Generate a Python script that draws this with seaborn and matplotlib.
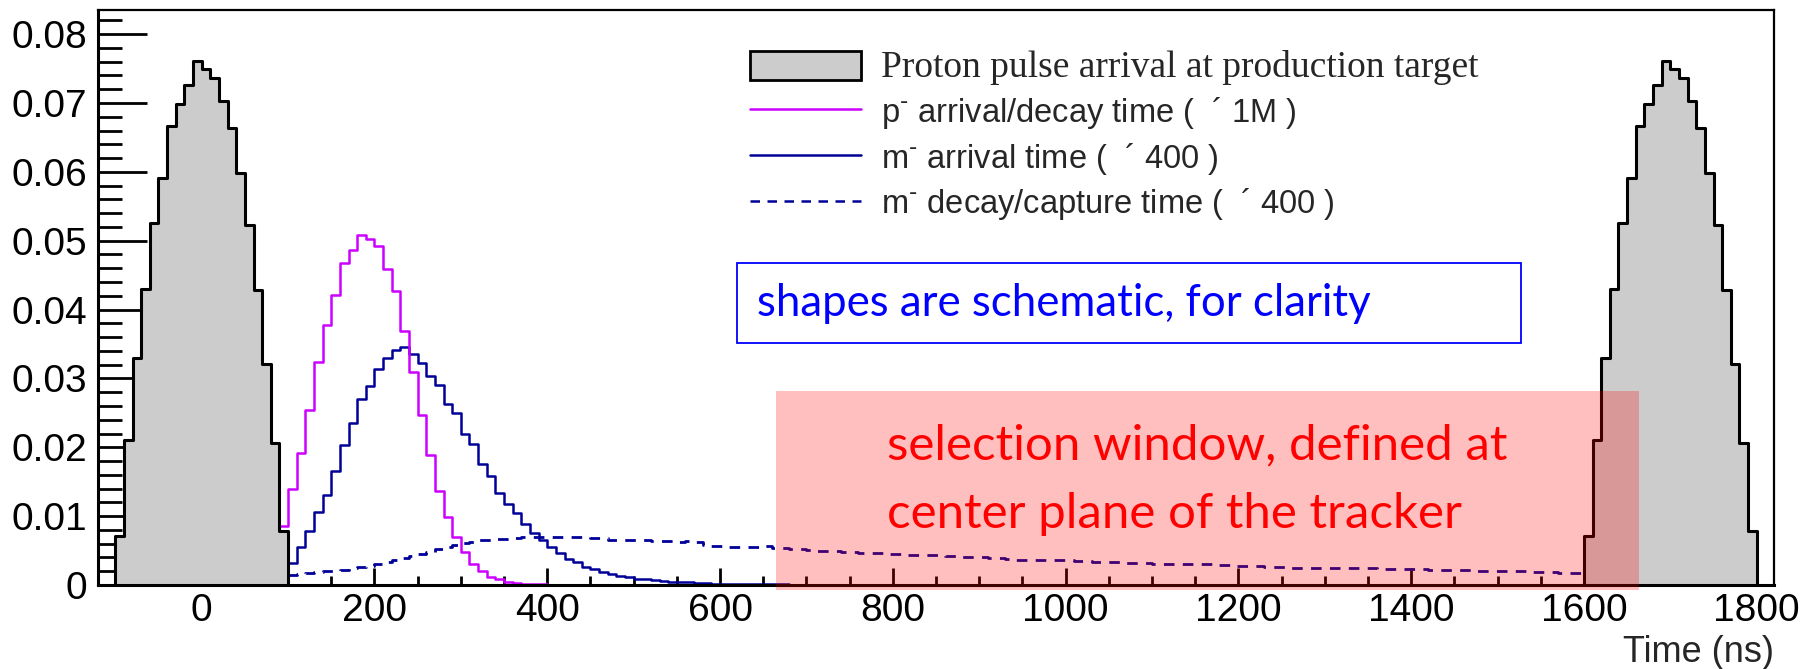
import numpy as np
import pandas as pd
import matplotlib
matplotlib.use('agg')
import matplotlib.pyplot as plt
from matplotlib.patches import Patch, Rectangle
from matplotlib.lines import Line2D
from matplotlib.ticker import MultipleLocator, FuncFormatter
import seaborn as sns

# ---- data (10 ns bins) ----
bin_width = 10
proton_starts = [-100, 1600]          # two pulses, same shape
proton_vals = [0.0071, 0.0211, 0.0329, 0.0430, 0.0526, 0.0591, 0.0666, 0.0698, 0.0726, 0.0761,
               0.0750, 0.0736, 0.0703, 0.0663, 0.0599, 0.0523, 0.0429, 0.0321, 0.0206, 0.0078]

pion_start = 90
pion_vals = [0.0085, 0.0139, 0.0192, 0.0254, 0.0324, 0.0377, 0.0421, 0.0467, 0.0487, 0.0508,
             0.0503, 0.0493, 0.0459, 0.0427, 0.0369, 0.0309, 0.0247, 0.0189, 0.0137, 0.0099,
             0.0069, 0.0048, 0.0030, 0.0020, 0.0012, 0.0008, 0.0005, 0.0003, 0.0002, 0.0001,
             0.0001]

muon_start = 100
muon_vals = [0.0032, 0.0055, 0.0078, 0.0106, 0.0131, 0.0165, 0.0203, 0.0235, 0.0270, 0.0289,
             0.0313, 0.0329, 0.0341, 0.0346, 0.0336, 0.0322, 0.0303, 0.0290, 0.0263, 0.0250,
             0.0220, 0.0205, 0.0176, 0.0158, 0.0133, 0.0117, 0.0104, 0.0089, 0.0075, 0.0065,
             0.0055, 0.0047, 0.0038, 0.0033, 0.0026, 0.0023, 0.0019, 0.0016, 0.0013, 0.0011,
             0.0009, 0.0008, 0.0007, 0.0006, 0.0005, 0.0005, 0.0004, 0.0003, 0.0003, 0.0002,
             0.0002, 0.0002, 0.0001, 0.0001, 0.0001, 0.0001, 0.0001, 0.0001, 0.00005, 0.00005,
             0.00005, 0.00005]

decay_start = 100
decay_vals = [0.0015, 0.0016, 0.0017, 0.0019, 0.0020, 0.0021, 0.0022, 0.0024, 0.0026, 0.0028,
              0.0030, 0.0033, 0.0036, 0.0039, 0.0042, 0.0045, 0.0048, 0.0052, 0.0055, 0.0058,
              0.0061, 0.0063, 0.0065, 0.0066, 0.0067, 0.0067, 0.0068, 0.0069, 0.0069, 0.0070,
              0.0070, 0.0069, 0.0069, 0.0070, 0.0069, 0.0068, 0.0068, 0.0066, 0.0066, 0.0065,
              0.0065, 0.0065, 0.0064, 0.0064, 0.0064, 0.0063, 0.0064, 0.0063, 0.0058, 0.0057,
              0.0056, 0.0055, 0.0055, 0.0055, 0.0055, 0.0056, 0.0054, 0.0054, 0.0053, 0.0052,
              0.0051, 0.0050, 0.0049, 0.0049, 0.0048, 0.0048, 0.0047, 0.0046, 0.0046, 0.0045,
              0.0045, 0.0044, 0.0044, 0.0043, 0.0043, 0.0043, 0.0042, 0.0042, 0.0041, 0.0040,
              0.0040, 0.0039, 0.0039, 0.0038, 0.0037, 0.0037, 0.0037, 0.0036, 0.0036, 0.0036,
              0.0036, 0.0035, 0.0035, 0.0034, 0.0034, 0.0033, 0.0033, 0.0032, 0.0032, 0.0032,
              0.0031, 0.0031, 0.0031, 0.0031, 0.0030, 0.0030, 0.0030, 0.0029, 0.0029, 0.0028,
              0.0028, 0.0027, 0.0027, 0.0026, 0.0026, 0.0026, 0.0025, 0.0025, 0.0025, 0.0025,
              0.0025, 0.0024, 0.0024, 0.0024, 0.0024, 0.0024, 0.0023, 0.0023, 0.0023, 0.0023,
              0.0023, 0.0023, 0.0022, 0.0022, 0.0022, 0.0022, 0.0022, 0.0021, 0.0021, 0.0021,
              0.0020, 0.0020, 0.0020, 0.0020, 0.0019, 0.0019, 0.0019, 0.0018, 0.0018, 0.0018]

legend_labels = ['Proton pulse arrival at production target',
                 r'p$^{\text{-}}$ arrival/decay time (  ´ 1M )',
                 r'm$^{\text{-}}$ arrival time (  ´ 400 )',
                 r'm$^{\text{-}}$ decay/capture time (  ´ 400 )']
x_ticks = [0, 200, 400, 600, 800, 1000, 1200, 1400, 1600, 1800]

grey = '#cccccc'
magenta = '#cc00ff'
navy = '#000099'


def hist_frame(start, vals):
    edges = [start + bin_width * i for i in range(len(vals) + 1)]
    df = pd.DataFrame({'t': [x + bin_width / 2 for x in edges[:-1]], 'w': vals})
    return df, edges


sns.set_theme(style='ticks')
plt.rcParams['font.family'] = ['Liberation Sans', 'DejaVu Sans']

fig = plt.figure(figsize=(18.12, 6.69), dpi=100)
ax = fig.add_axes([98 / 1812, 1 - 585 / 669, 1676 / 1812, 575 / 669])

# muon decay/capture (dashed)
df, e = hist_frame(decay_start, decay_vals)
sns.histplot(data=df, x='t', weights='w', bins=e, element='step', fill=False,
             color=navy, linewidth=2.0, linestyle=(0, (3.8, 3.0)), ax=ax, zorder=2)
# muon arrival
df, e = hist_frame(muon_start, muon_vals)
sns.histplot(data=df, x='t', weights='w', bins=e, element='step', fill=False,
             color=navy, linewidth=1.8, ax=ax, zorder=2)
# pion
df, e = hist_frame(pion_start, pion_vals)
sns.histplot(data=df, x='t', weights='w', bins=e, element='step', fill=False,
             color=magenta, linewidth=1.8, ax=ax, zorder=2)
# proton pulses
for s in proton_starts:
    df, e = hist_frame(s, proton_vals)
    sns.histplot(data=df, x='t', weights='w', bins=e, element='step', fill=True,
                 color=grey, edgecolor='black', linewidth=2.2, alpha=1, ax=ax, zorder=3)

ax.set_xlim(-120, 1820)
ax.set_ylim(0, 0.0835)
ax.set_ylabel('')
ax.set_xlabel('Time (ns)', loc='right', fontsize=26, labelpad=4)

ax.set_xticks(x_ticks)
ax.xaxis.set_minor_locator(MultipleLocator(50))
ax.yaxis.set_major_locator(MultipleLocator(0.01))
ax.yaxis.set_minor_locator(MultipleLocator(0.002))
ax.yaxis.set_major_formatter(FuncFormatter(lambda v, p: '0' if abs(v) < 1e-9 else f'{v:.2f}'))
ax.tick_params(axis='both', which='both', direction='in', width=2, colors='black',
               labelsize=28, top=False, right=False)
ax.tick_params(axis='x', which='both', pad=6)
ax.tick_params(axis='y', which='both', pad=8)
ax.tick_params(axis='x', which='major', length=12)
ax.tick_params(axis='x', which='minor', length=6.5)
ax.tick_params(axis='y', which='major', length=35)
ax.tick_params(axis='y', which='minor', length=17)
for sp in ax.spines.values():
    sp.set_visible(True)
    sp.set_color('black')
    sp.set_linewidth(1.6)
ax.spines['left'].set_linewidth(2.2)
ax.spines['bottom'].set_linewidth(2.2)

# selection window
ax.add_patch(Rectangle((665, -0.0007), 999, 0.0289, facecolor='red', edgecolor='none',
                       alpha=0.25, clip_on=False, zorder=5))
ax.text(793, 0.0203, 'selection window, defined at', color='red', fontsize=35.5,
        family=['Lato', 'DejaVu Sans'], va='center', ha='left', zorder=6)
ax.text(793, 0.0103, 'center plane of the tracker', color='red', fontsize=35.5,
        family=['Lato', 'DejaVu Sans'], va='center', ha='left', zorder=6)

# schematic note box
ax.add_patch(Rectangle((0.3813, 0.4209), 0.4678, 0.1391, transform=ax.transAxes,
                       facecolor='white', edgecolor='blue', linewidth=1.3, zorder=6))
ax.text(0.3932, 0.4904, 'shapes are schematic, for clarity', transform=ax.transAxes,
        color='blue', fontsize=31.5, family=['Lato', 'DejaVu Sans'], va='center', ha='left', zorder=7)

handles = [Patch(facecolor=grey, edgecolor='black', linewidth=2),
           Line2D([], [], color=magenta, lw=1.8),
           Line2D([], [], color=navy, lw=1.8),
           Line2D([], [], color=navy, lw=1.8, linestyle=(0, (3.8, 3.0)))]
leg = ax.legend(handles, legend_labels, loc='upper left',
                bbox_to_anchor=(750 / 1812, 1 - 50 / 669), bbox_transform=fig.transFigure,
                frameon=False, fontsize=23.5, handlelength=3.4, handleheight=0.98,
                handletextpad=0.6, labelspacing=0.3, borderpad=0, borderaxespad=0)
leg.get_texts()[0].set_family(['Liberation Serif', 'DejaVu Serif'])
leg.get_texts()[0].set_fontsize(27)

fig.savefig('out.png', dpi=100)
